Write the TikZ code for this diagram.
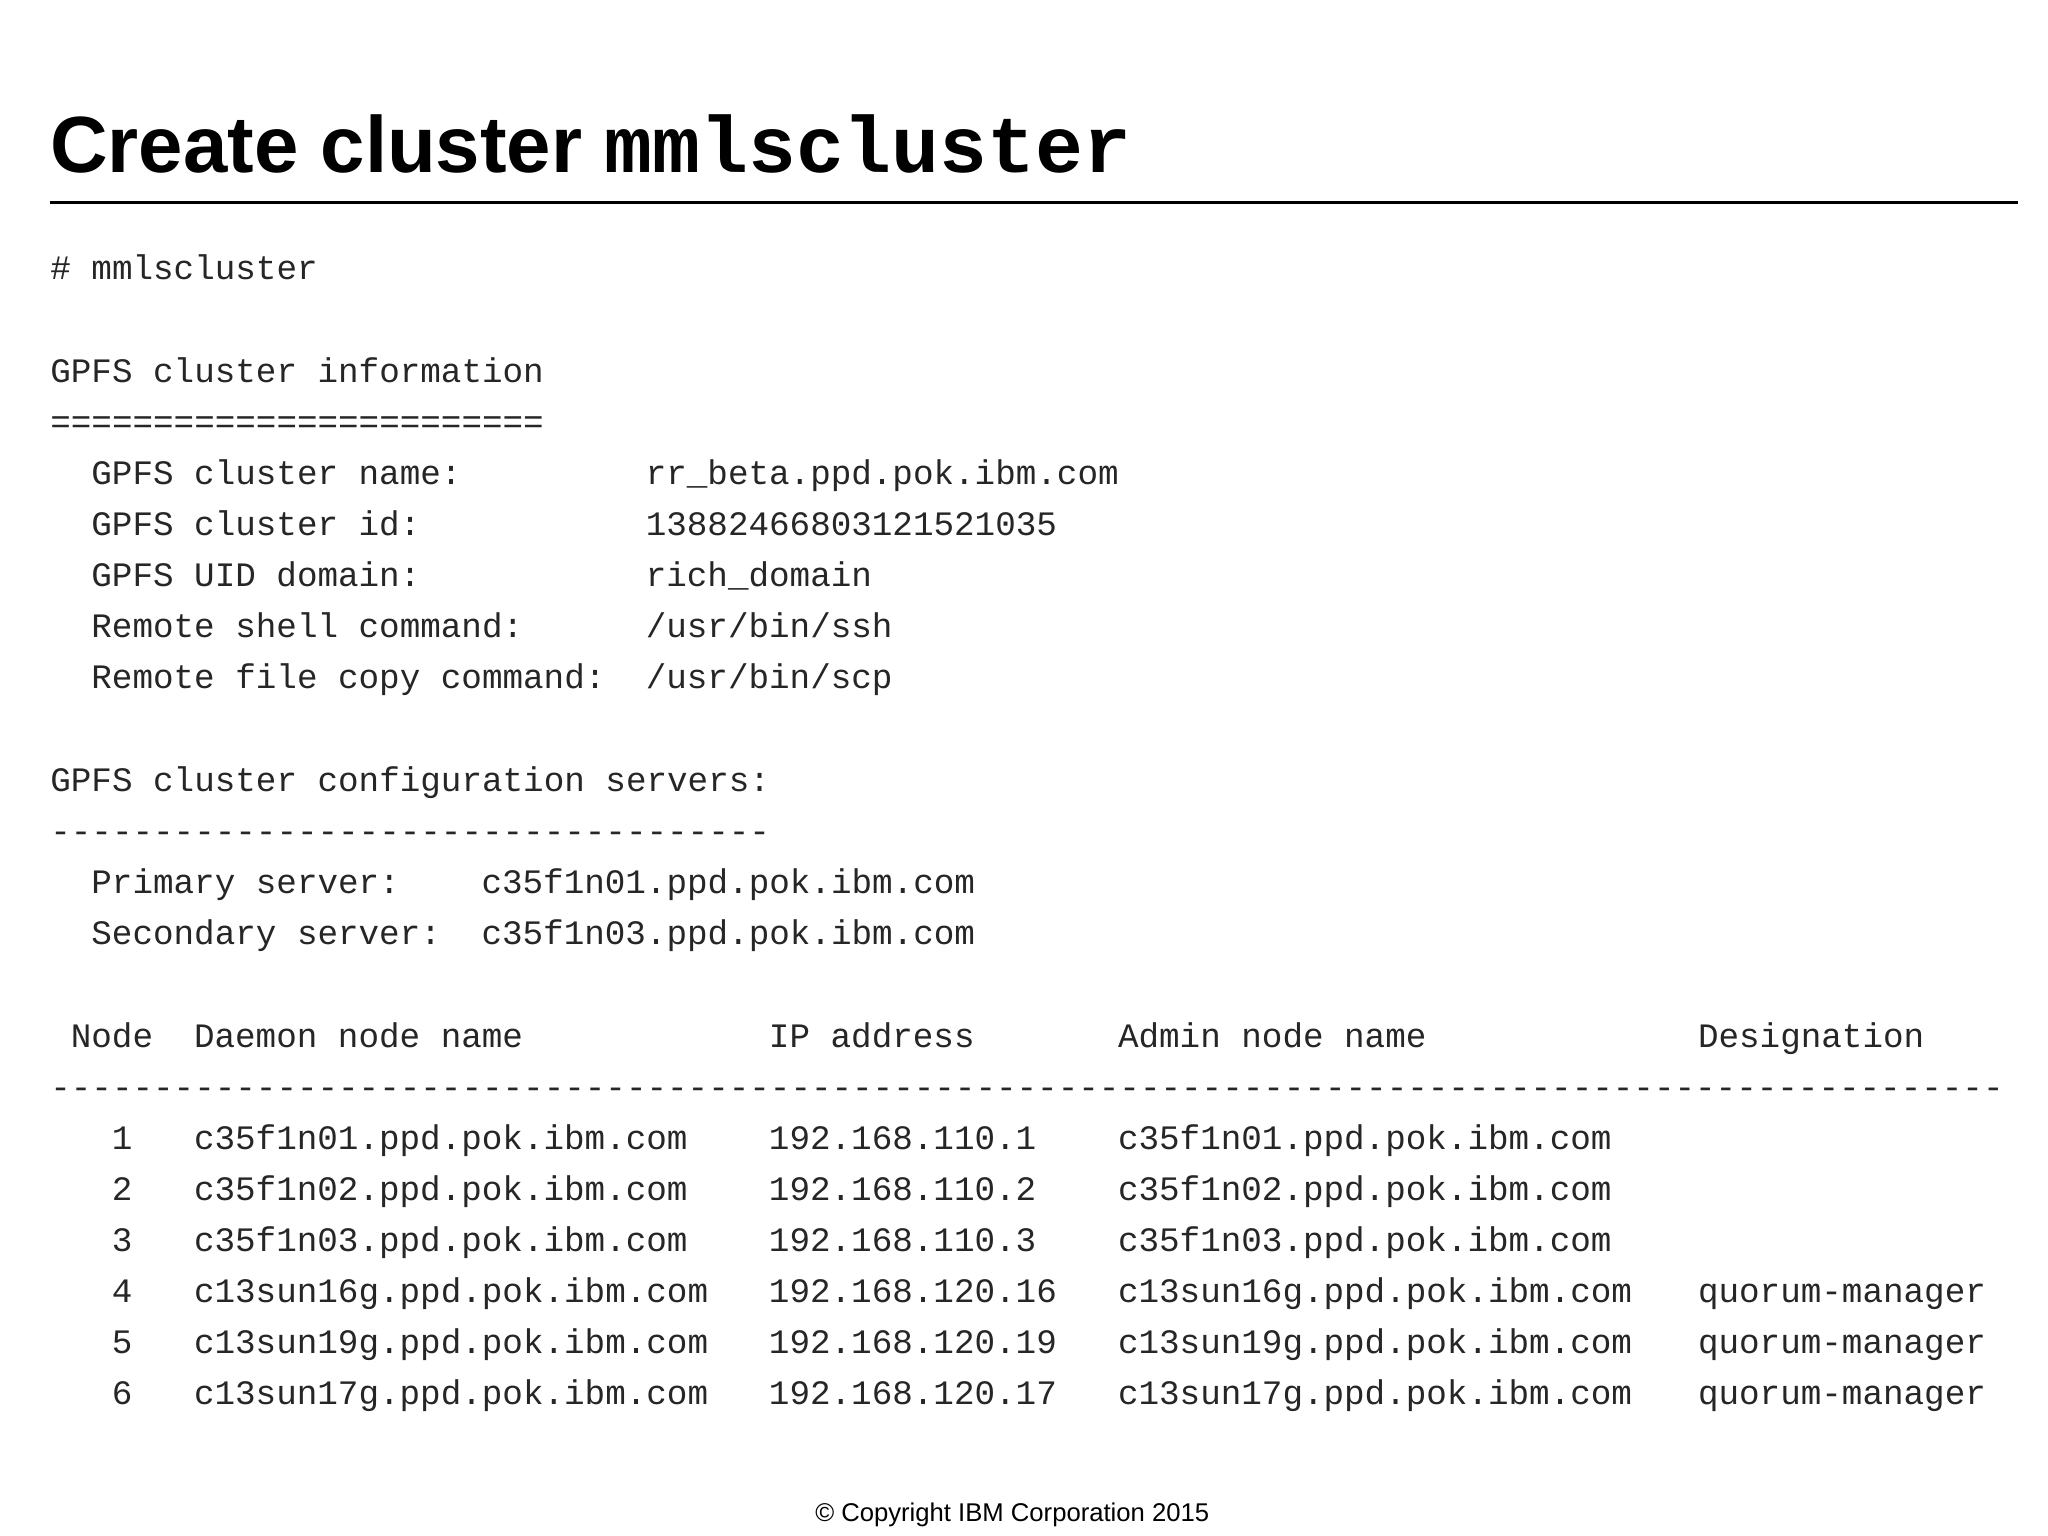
\documentclass[tikz,border=0pt]{standalone}
\usepackage{fontspec}
\setmainfont{Liberation Sans}
\setmonofont{Liberation Mono}
\begin{document}
\begin{tikzpicture}[x=0.01306cm,y=-0.01306cm,
  tt/.style={anchor=base west,inner sep=0pt,font=\ttfamily\fontsize{9.75}{11}\selectfont,text=black!85}]
\useasboundingbox[fill=white] (0,0) rectangle (1568,1176);
\def\cw{15.72}
\newcommand\cell[3]{\node[tt] at ({38+#1*\cw},{#2+9}) {#3};}
\node[anchor=base west,inner sep=0pt,font=\bfseries\fontsize{22.7}{26}\selectfont] (title) at (38,132) {Create cluster \texttt{\bfseries mmlscluster}};
\draw[line width=0.9pt] (38,155) -- (1545,155);
\cell{0}{205}{\# mmlscluster}
\cell{0}{284}{GPFS cluster information}
\cell{0}{323}{========================}
\cell{2}{362}{GPFS cluster name:}\cell{29}{362}{rr\_beta.ppd.pok.ibm.com}
\cell{2}{401}{GPFS cluster id:}\cell{29}{401}{13882466803121521035}
\cell{2}{440}{GPFS UID domain:}\cell{29}{440}{rich\_domain}
\cell{2}{479}{Remote shell command:}\cell{29}{479}{/usr/bin/ssh}
\cell{2}{518}{Remote file copy command:}\cell{29}{518}{/usr/bin/scp}
\cell{0}{597}{GPFS cluster configuration servers:}
\cell{0}{636}{-----------------------------------}
\cell{2}{675}{Primary server:}\cell{21}{675}{c35f1n01.ppd.pok.ibm.com}
\cell{2}{714}{Secondary server:}\cell{21}{714}{c35f1n03.ppd.pok.ibm.com}
\cell{1}{793}{Node}\cell{7}{793}{Daemon node name}\cell{35}{793}{IP address}\cell{52}{793}{Admin node name}\cell{80.25}{793}{Designation}
\cell{0}{832}{-----------------------------------------------------------------------------------------------}
\cell{3}{871}{1}\cell{7}{871}{c35f1n01.ppd.pok.ibm.com}\cell{35}{871}{192.168.110.1}\cell{52}{871}{c35f1n01.ppd.pok.ibm.com}
\cell{3}{910}{2}\cell{7}{910}{c35f1n02.ppd.pok.ibm.com}\cell{35}{910}{192.168.110.2}\cell{52}{910}{c35f1n02.ppd.pok.ibm.com}
\cell{3}{949}{3}\cell{7}{949}{c35f1n03.ppd.pok.ibm.com}\cell{35}{949}{192.168.110.3}\cell{52}{949}{c35f1n03.ppd.pok.ibm.com}
\cell{3}{988}{4}\cell{7}{988}{c13sun16g.ppd.pok.ibm.com}\cell{35}{988}{192.168.120.16}\cell{52}{988}{c13sun16g.ppd.pok.ibm.com}\cell{80.25}{988}{quorum-manager}
\cell{3}{1027}{5}\cell{7}{1027}{c13sun19g.ppd.pok.ibm.com}\cell{35}{1027}{192.168.120.19}\cell{52}{1027}{c13sun19g.ppd.pok.ibm.com}\cell{80.25}{1027}{quorum-manager}
\cell{3}{1066}{6}\cell{7}{1066}{c13sun17g.ppd.pok.ibm.com}\cell{35}{1066}{192.168.120.17}\cell{52}{1066}{c13sun17g.ppd.pok.ibm.com}\cell{80.25}{1066}{quorum-manager}
\node[anchor=base,inner sep=0pt,font=\fontsize{7.3}{9}\selectfont] (copy) at (775,1165) {\textcopyright{} Copyright IBM Corporation 2015};
\end{tikzpicture}
\end{document}
